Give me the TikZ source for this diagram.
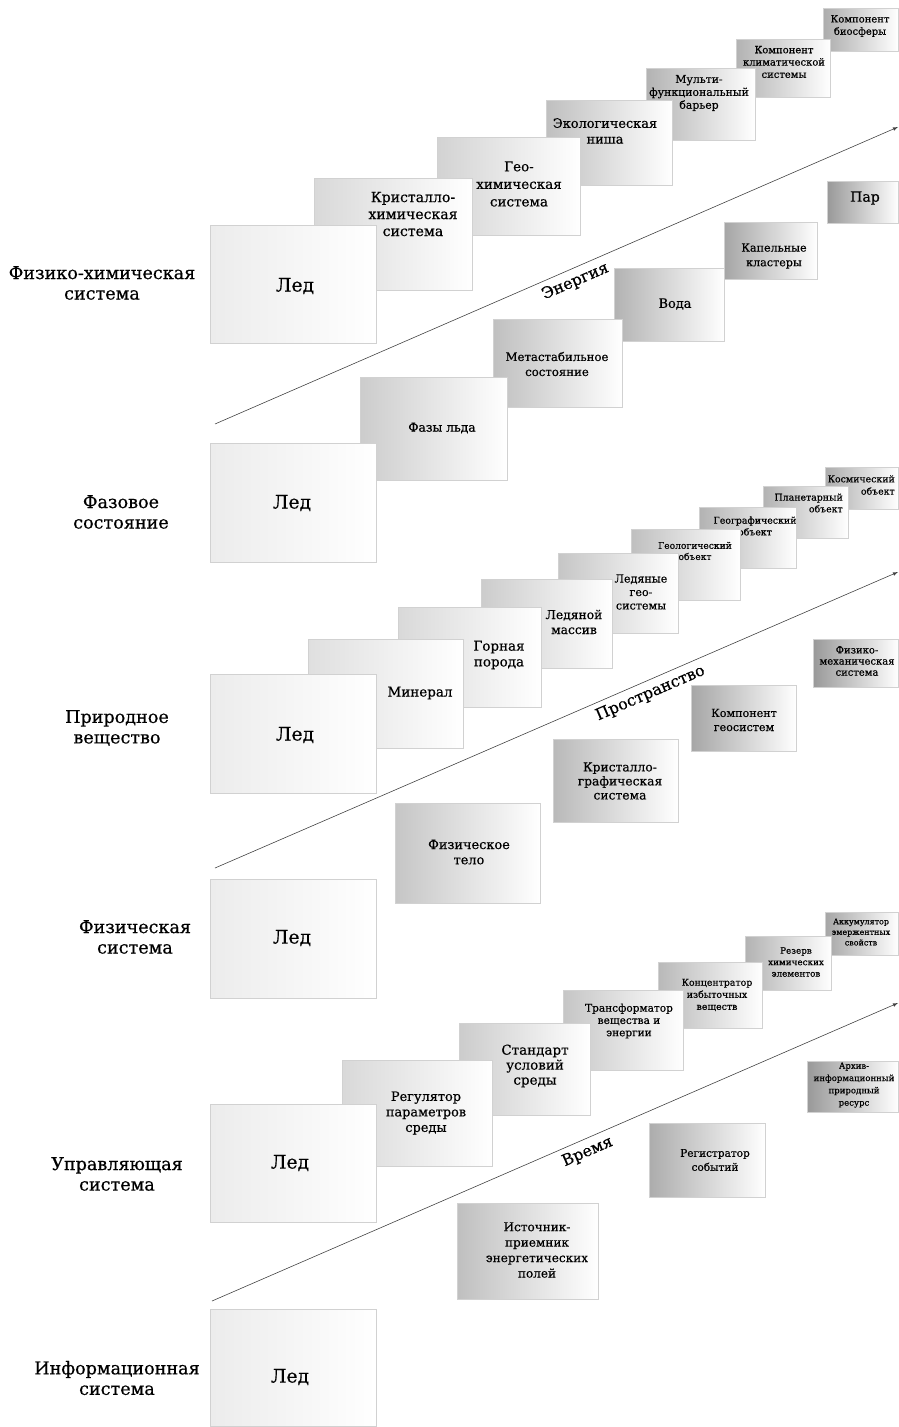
\documentclass[tikz,border=0pt]{standalone}
\usepackage{fontspec}
\setmainfont{DejaVu Serif}[RawFeature={embolden=0.5}]
\usepackage{tikz}

\tikzset{
  stepbox/.style={draw=black!18, line width=0.4pt, inner sep=0pt, anchor=north west, left color=#1, right color=white},
  wh/.style 2 args={minimum width=#1*0.3mm, minimum height=#2*0.3mm},
  boxtext/.style={align=center, inner sep=0pt},
  rowlabel/.style={align=center, inner sep=0pt, font={\fontsize{15}{17.5}\selectfont}},
  icetext/.style={inner sep=0pt, font={\fontsize{16}{18}\selectfont}},
  axis/.style={draw=black!75, line width=0.5pt},
  axislabel/.style={sloped, below, inner sep=4.5pt, font={\fontsize{13.5}{15}\selectfont}},
}

\begin{document}
\begin{tikzpicture}[>=latex, x=0.3mm, y=-0.3mm]
\useasboundingbox (0,0) rectangle (898,1427);

% row labels
\node[name=lbl_fh, rowlabel] at (102,283) {Физико-химическая\\система};
\node[name=lbl_ph, rowlabel] at (121,512) {Фазовое\\состояние};
\node[name=lbl_nm, rowlabel] at (117,728) {Природное\\вещество};
\node[name=lbl_ps, rowlabel] at (135,937) {Физическая\\система};
\node[name=lbl_cs, rowlabel] at (117,1174) {Управляющая\\система};
\node[name=lbl_is, rowlabel] at (117,1378) {Информационная\\система};

% physico-chemical system
\node[name=fh_7, stepbox=gray!65, wh={75}{43}] at (823,8) {};
\node[name=fh_7_text, boxtext, font={\fontsize{8.5}{10.5}\selectfont}] at (860,26) {Компонент\\биосферы};
\node[name=fh_6, stepbox=gray!60, wh={94}{58}] at (736,39) {};
\node[name=fh_6_text, boxtext, font={\fontsize{8.5}{10.5}\selectfont}] at (784,62) {Компонент\\климатической\\системы};
\node[name=fh_5, stepbox=gray!60, wh={109}{72}] at (646,68) {};
\node[name=fh_5_text, boxtext, font={\fontsize{9.3}{11}\selectfont}] at (699,93) {Мульти-\\функциональный\\барьер};
\node[name=fh_4, stepbox=gray!50, wh={126}{85}] at (546,100) {};
\node[name=fh_4_text, boxtext, font={\fontsize{11}{13.5}\selectfont}] at (605,131) {Экологическая\\ниша};
\node[name=fh_3, stepbox=gray!35, wh={143}{98}] at (437,137) {};
\node[name=fh_3_text, boxtext, font={\fontsize{11.5}{15}\selectfont}] at (519,184) {Гео-\\химическая\\система};
\node[name=fh_2, stepbox=gray!30, wh={158}{112}] at (314,178) {};
\node[name=fh_2_text, boxtext, font={\fontsize{12}{14.5}\selectfont}] at (413,214) {Кристалло-\\химическая\\система};
\node[name=fh_1, stepbox=gray!15, wh={166}{118}] at (210,225) {};
\node[name=fh_1_text, icetext] at (295,286) {Лед};

% phase state
\node[name=ph_6, stepbox=gray!80, wh={71}{42}] at (827,181) {};
\node[name=ph_6_text, boxtext, font={\fontsize{12}{14}\selectfont}] at (865,198) {Пар};
\node[name=ph_5, stepbox=gray!70, wh={93}{57}] at (724,222) {};
\node[name=ph_5_text, boxtext, font={\fontsize{9.5}{12.5}\selectfont}] at (774,256) {Капельные\\кластеры};
\node[name=ph_4, stepbox=gray!60, wh={110}{73}] at (614,268) {};
\node[name=ph_4_text, boxtext, font={\fontsize{11}{13}\selectfont}] at (675,304) {Вода};
\node[name=ph_3, stepbox=gray!50, wh={129}{88}] at (493,319) {};
\node[name=ph_3_text, boxtext, font={\fontsize{10}{12.8}\selectfont}] at (557,364) {Метастабильное\\состояние};
\node[name=ph_2, stepbox=gray!40, wh={147}{103}] at (360,377) {};
\node[name=ph_2_text, boxtext, font={\fontsize{10.5}{12.5}\selectfont}] at (442,428) {Фазы льда};
\node[name=ph_1, stepbox=gray!15, wh={166}{119}] at (210,443) {};
\node[name=ph_1_text, icetext] at (292,503) {Лед};

% natural matter
\node[name=nm_9, stepbox=gray!65, wh={73}{42}] at (825,467) {};
\node[name=nm_9_text, boxtext, align=right, anchor=east, font={\fontsize{8}{10.5}\selectfont}] at (895,485) {Космический\\объект};
\node[name=nm_8, stepbox=gray!60, wh={85}{52}] at (763,486) {};
\node[name=nm_8_text, boxtext, align=right, anchor=east, font={\fontsize{8}{10}\selectfont}] at (843,503) {Планетарный\\объект};
\node[name=nm_7, stepbox=gray!60, wh={97}{61}] at (699,507) {};
\node[name=nm_7_text, boxtext, font={\fontsize{8}{10}\selectfont}] at (755,526) {Географический\\объект};
\node[name=nm_6, stepbox=gray!50, wh={109}{71}] at (631,529) {};
\node[name=nm_6_text, boxtext, font={\fontsize{7.8}{9.5}\selectfont}] at (695,551) {Геологический\\объект};
\node[name=nm_5, stepbox=gray!45, wh={120}{80}] at (558,553) {};
\node[name=nm_5_text, boxtext, font={\fontsize{9.5}{11.5}\selectfont}] at (641,592) {Ледяные\\гео-\\системы};
\node[name=nm_4, stepbox=gray!40, wh={131}{89}] at (481,579) {};
\node[name=nm_4_text, boxtext, font={\fontsize{10.5}{12.8}\selectfont}] at (574,622) {Ледяной\\массив};
\node[name=nm_3, stepbox=gray!30, wh={143}{100}] at (398,607) {};
\node[name=nm_3_text, boxtext, font={\fontsize{11.5}{13.5}\selectfont}] at (499,655) {Горная\\порода};
\node[name=nm_2, stepbox=gray!25, wh={155}{109}] at (308,639) {};
\node[name=nm_2_text, boxtext, font={\fontsize{11.5}{13.5}\selectfont}] at (420,693) {Минерал};
\node[name=nm_1, stepbox=gray!15, wh={166}{119}] at (210,674) {};
\node[name=nm_1_text, icetext] at (295,735) {Лед};

% physical system
\node[name=ps_5, stepbox=gray!80, wh={85}{48}] at (813,639) {};
\node[name=ps_5_text, boxtext, font={\fontsize{8.5}{9.5}\selectfont}] at (857,661) {Физико-\\механическая\\система};
\node[name=ps_4, stepbox=gray!70, wh={105}{66}] at (691,685) {};
\node[name=ps_4_text, boxtext, font={\fontsize{9.5}{12}\selectfont}] at (744,720) {Компонент\\геосистем};
\node[name=ps_3, stepbox=gray!55, wh={125}{83}] at (553,739) {};
\node[name=ps_3_text, boxtext, font={\fontsize{10.5}{12}\selectfont}] at (620,781) {Кристалло-\\графическая\\система};
\node[name=ps_2, stepbox=gray!45, wh={145}{100}] at (395,803) {};
\node[name=ps_2_text, boxtext, font={\fontsize{11}{13}\selectfont}] at (469,852) {Физическое\\тело};
\node[name=ps_1, stepbox=gray!15, wh={166}{119}] at (210,879) {};
\node[name=ps_1_text, icetext] at (292,938) {Лед};

% control system
\node[name=cs_7, stepbox=gray!70, wh={73}{43}] at (825,912) {};
\node[name=cs_7_text, boxtext, font={\fontsize{6.8}{9}\selectfont}] at (861,932) {Аккумулятор\\эмержентных\\свойств};
\node[name=cs_6, stepbox=gray!60, wh={86}{54}] at (745,936) {};
\node[name=cs_6_text, boxtext, font={\fontsize{7.5}{9.8}\selectfont}] at (796,962) {Резерв\\химических\\элементов};
\node[name=cs_5, stepbox=gray!55, wh={104}{66}] at (658,962) {};
\node[name=cs_5_text, boxtext, font={\fontsize{8}{10.3}\selectfont}] at (717,995) {Концентратор\\избыточных\\веществ};
\node[name=cs_4, stepbox=gray!45, wh={120}{80}] at (563,990) {};
\node[name=cs_4_text, boxtext, font={\fontsize{9}{10.5}\selectfont}] at (629,1021) {Трансформатор\\вещества и\\энергии};
\node[name=cs_3, stepbox=gray!40, wh={131}{92}] at (459,1023) {};
\node[name=cs_3_text, boxtext, font={\fontsize{11.5}{12.8}\selectfont}] at (535,1066) {Стандарт\\условий\\среды};
\node[name=cs_2, stepbox=gray!30, wh={150}{106}] at (342,1060) {};
\node[name=cs_2_text, boxtext, font={\fontsize{11}{13.2}\selectfont}] at (426,1113) {Регулятор\\параметров\\среды};
\node[name=cs_1, stepbox=gray!15, wh={166}{118}] at (210,1104) {};
\node[name=cs_1_text, icetext] at (290,1163) {Лед};

% information system
\node[name=is_4, stepbox=gray!80, wh={91}{51}] at (807,1061) {};
\node[name=is_4_text, boxtext, font={\fontsize{7.3}{10.5}\selectfont}] at (854,1085) {Архив-\\информационный\\природный\\ресурс};
\node[name=is_3, stepbox=gray!65, wh={116}{74}] at (649,1123) {};
\node[name=is_3_text, boxtext, font={\fontsize{9}{12}\selectfont}] at (715,1160) {Регистратор\\событий};
\node[name=is_2, stepbox=gray!50, wh={141}{96}] at (457,1203) {};
\node[name=is_2_text, boxtext, font={\fontsize{10.3}{13.2}\selectfont}] at (537,1250) {Источник-\\приемник\\энергетических\\полей};
\node[name=is_1, stepbox=gray!15, wh={166}{117}] at (210,1309) {};
\node[name=is_1_text, icetext] at (290,1377) {Лед};

% axes
\coordinate (energy_start) at (215,424);
\coordinate (energy_end) at (898,127);
\coordinate (space_start) at (215,868);
\coordinate (space_end) at (898,572);
\coordinate (time_start) at (212,1301);
\coordinate (time_end) at (898,1003);
\draw(energy_start) edge[->, axis]node[axislabel, pos=0.52]{Энергия}(energy_end);
\draw(space_start) edge[->, axis]node[axislabel, pos=0.63]{Пространство}(space_end);
\draw(time_start) edge[->, axis]node[axislabel, pos=0.54]{Время}(time_end);
\end{tikzpicture}
\end{document}
